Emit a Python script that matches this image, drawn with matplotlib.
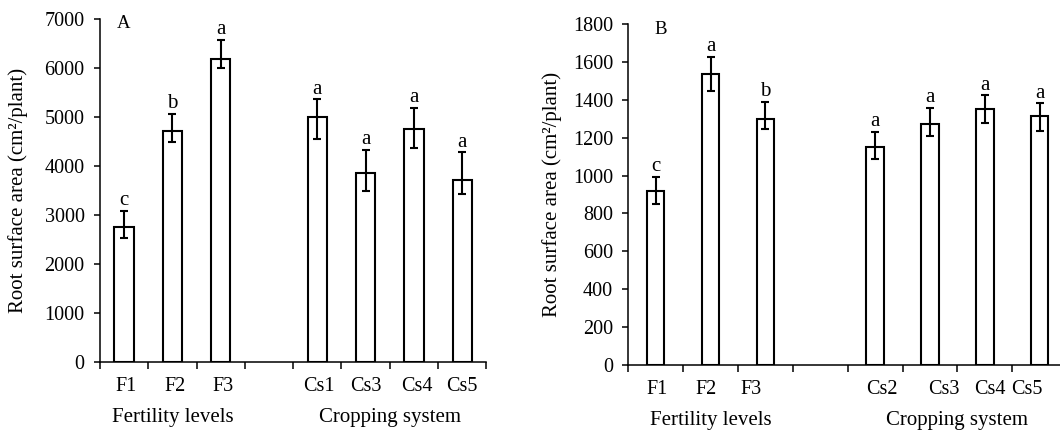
import matplotlib
matplotlib.use('Agg')
import matplotlib.pyplot as plt
import numpy as np

plt.rcParams['font.family'] = ['Liberation Serif', 'DejaVu Serif']

# panel A
labels_a = ['F1', 'F2', 'F3', 'Cs1', 'Cs3', 'Cs4', 'Cs5']
values_a = [2750, 4715, 6180, 5000, 3850, 4755, 3710]
err_up_a = [330, 340, 385, 360, 475, 430, 565]
err_dn_a = [225, 225, 180, 460, 355, 400, 285]
letters_a = ['c', 'b', 'a', 'a', 'a', 'a', 'a']

# panel B
labels_b = ['F1', 'F2', 'F3', 'Cs2', 'Cs3', 'Cs4', 'Cs5']
values_b = [918, 1537, 1297, 1152, 1272, 1349, 1312]
err_up_b = [75, 90, 93, 79, 86, 75, 70]
err_dn_b = [69, 93, 53, 65, 62, 69, 76]
letters_b = ['c', 'a', 'b', 'a', 'a', 'a', 'a']

groups = ['Fertility levels', 'Cropping system']

# slot centres, an empty slot between the two groups
xpos = np.array([0.5, 1.5, 2.5, 4.5, 5.5, 6.5, 7.5])
# the tick labels in the original are not quite under the bars
shift_a = np.array([0.05, 0.05, 0.05, 0.03, 0.0, 0.07, 0.0])
shift_b = np.array([0.03, -0.09, -0.26, 0.12, 0.25, 0.1, -0.23])


def draw_panel(ax, labels, values, err_up, err_dn, letters, shift, width, ymax, ystep, tag, tag_xy, ylab_x):
    ax.bar(xpos, values, width=width, color='white', edgecolor='black', linewidth=1.5, zorder=2)
    ax.errorbar(xpos, values, yerr=[err_dn, err_up], fmt='none', ecolor='black',
                elinewidth=1.5, capsize=3.2, capthick=1.5, zorder=3)
    for x, v, e, s in zip(xpos, values, err_up, letters):
        ax.annotate(s, xy=(x, v + e), xytext=(0, 4), textcoords='offset points',
                    ha='center', va='baseline', fontsize=15)

    ax.set_xlim(0, 8)
    ax.set_ylim(0, ymax)
    ax.set_yticks(np.arange(0, ymax + 1, ystep))
    ax.set_xticks(np.arange(0, 9))
    ax.set_xticklabels([])
    ax.set_xticks(xpos + shift, minor=True)
    ax.set_xticklabels(labels, minor=True)

    for s in ['top', 'right']:
        ax.spines[s].set_visible(False)
    for s in ['left', 'bottom']:
        ax.spines[s].set_linewidth(1.1)
    ax.tick_params(axis='y', direction='out', length=4, width=1.1, labelsize=14.5, pad=7)
    ax.tick_params(axis='x', which='major', direction='out', length=5, width=1.1)
    ax.tick_params(axis='x', which='minor', length=0, labelsize=14.5, pad=11)

    ax.set_ylabel('Root surface area (cm²/plant)', fontsize=15)
    ax.yaxis.set_label_coords(ylab_x, 0.5)

    ax.annotate(groups[0], xy=(1.5, 0), xycoords=('data', 'axes fraction'),
                xytext=(0, -33), textcoords='offset points', ha='center', va='top', fontsize=15)
    ax.annotate(groups[1], xy=(6.0, 0), xycoords=('data', 'axes fraction'),
                xytext=(0, -33), textcoords='offset points', ha='center', va='top', fontsize=15)

    ax.text(tag_xy[0], tag_xy[1], tag, transform=ax.transAxes, ha='center', va='center', fontsize=13.5)


fig = plt.figure(figsize=(10.6, 4.34), dpi=100)
ax1 = fig.add_axes([0.0943, 0.1659, 0.3645, 0.7912])
ax2 = fig.add_axes([0.5927, 0.159, 0.414, 0.7857])

draw_panel(ax1, labels_a, values_a, err_up_a, err_dn_a, letters_a, shift_a, 0.4, 7000, 1000,
           'A', (0.061, 0.985), -0.185)
draw_panel(ax2, labels_b, values_b, err_up_b, err_dn_b, letters_b, shift_b, 0.32, 1800, 200,
           'B', (0.075, 0.985), -0.152)

fig.savefig('out.png', dpi=100)
